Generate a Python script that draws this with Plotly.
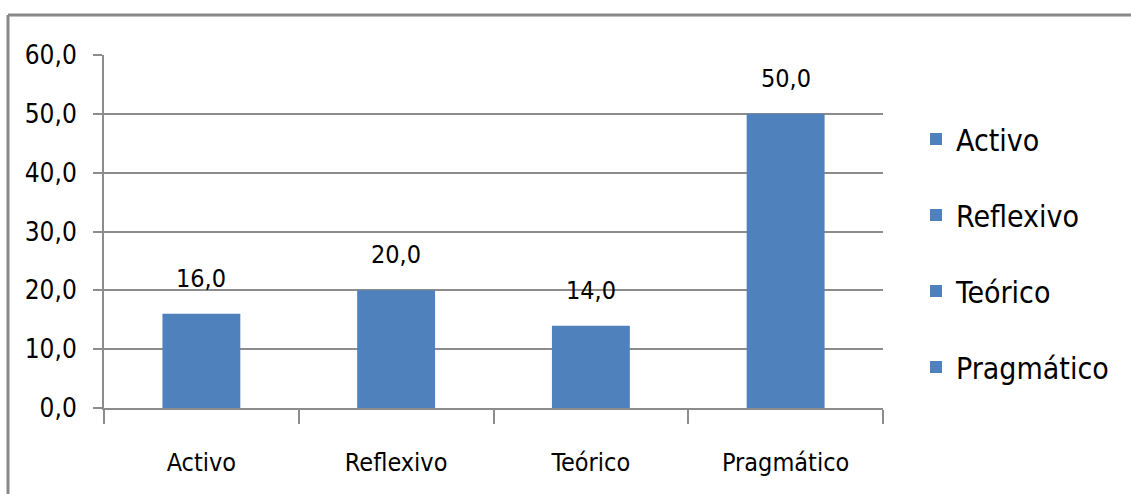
import plotly.graph_objects as go

categories = ["Activo", "Reflexivo", "Teórico", "Pragmático"]
values = [16.0, 20.0, 14.0, 50.0]
y_ticks = [0, 10, 20, 30, 40, 50, 60]

BAR = "#4F81BD"
GRID = "#8C8C8C"
FONT = "Liberation Sans Narrow, DejaVu Sans Condensed, Arial Narrow, sans-serif"

fig = go.Figure()
for i, (c, v) in enumerate(zip(categories, values)):
    fig.add_trace(go.Bar(
        x=[c], y=[v], name=c, legendgroup=c,
        marker=dict(color=BAR, line=dict(width=0)),
        hoverinfo="x+y",
    ))

for c, v in zip(categories, values):
    fig.add_annotation(x=c, y=v, text=f"{v:.1f}".replace(".", ","),
                       showarrow=False, yanchor="bottom", yshift=19,
                       font=dict(family=FONT, size=25, color="#000"))

W, H = 1131, 494
L, R, T, B = 104, 248, 55, 86
pw = W - L - R
ph = H - T - B

# outer frame (top and left edges visible)
fx0 = (8 - L) / pw
fy_top = 1 + (T - 15) / ph
fig.add_shape(type="line", xref="paper", yref="paper",
              x0=fx0, x1=(W + 5 - L) / pw, y0=fy_top, y1=fy_top,
              line=dict(color="#888888", width=3), layer="below")
fig.add_shape(type="line", xref="paper", yref="paper",
              x0=fx0, x1=fx0, y0=fy_top, y1=-(B + 10) / ph,
              line=dict(color="#888888", width=3), layer="below")

fig.update_layout(
    width=W, height=H,
    margin=dict(l=L, r=R, t=T, b=B, pad=0),
    paper_bgcolor="white", plot_bgcolor="white",
    barmode="overlay", bargap=0.6,
    separators=",.",
    font=dict(family=FONT, size=26, color="#000"),
    showlegend=True,
    legend=dict(x=(916 - L) / pw, xanchor="left", y=1 - (113 - T) / ph, yanchor="top",
                font=dict(family=FONT, size=30, color="#000"),
                tracegroupgap=34, itemclick=False, bgcolor="rgba(0,0,0,0)"),
    xaxis=dict(type="category", categoryorder="array", categoryarray=categories,
               showline=True, linecolor=GRID, linewidth=2,
               ticks="outside", tickson="boundaries", ticklen=14, tickwidth=2,
               tickcolor=GRID, showgrid=False,
               tickfont=dict(family=FONT, size=25, color="#000"),
               ticklabelstandoff=31),
    yaxis=dict(range=[0, 60], tickvals=y_ticks, tickformat=".1f",
               showline=True, linecolor=GRID, linewidth=2,
               showgrid=True, gridcolor=GRID, gridwidth=2,
               ticks="outside", ticklen=9, tickwidth=2, tickcolor=GRID,
               zeroline=False,
               tickfont=dict(family=FONT, size=26, color="#000"),
               ticklabelstandoff=11),
)

fig.write_html("out.html", config={"displayModeBar": False},
               post_script="document.body.style.margin='0';document.body.style.overflow='hidden';")
